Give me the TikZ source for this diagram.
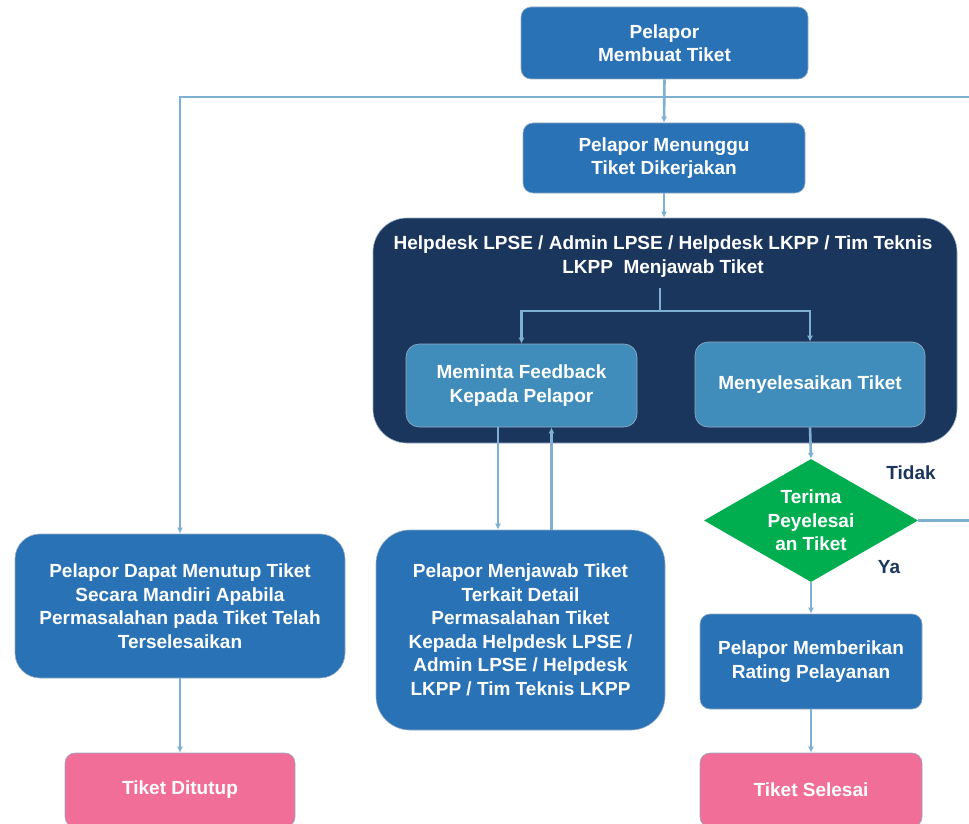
\documentclass[tikz,border=0pt]{standalone}
\usepackage{fontspec}
\setmainfont{Liberation Sans}
\usetikzlibrary{shapes.geometric,arrows.meta,positioning}

\definecolor{boxblue}{RGB}{41,114,182}
\definecolor{navy}{RGB}{27,54,93}
\definecolor{subblue}{RGB}{64,141,188}
\definecolor{pinkend}{RGB}{240,110,152}
\definecolor{okgreen}{RGB}{0,174,80}
\definecolor{linkblue}{RGB}{125,176,210}
\definecolor{rimgray}{RGB}{150,172,196}

\tikzset{
  txt/.style={text=white, font=\fontsize{19}{23.5}\selectfont\bfseries, align=center, inner sep=0pt},
  box/.style={txt, draw=rimgray, line width=0.6pt, fill=boxblue, rounded corners=10pt},
  bigbox/.style={box, rounded corners=30pt},
  panel/.style={draw=rimgray, line width=0.6pt, fill=navy, rounded corners=34pt},
  subbox/.style={box, fill=subblue, rounded corners=13pt},
  endbox/.style={box, fill=pinkend},
  decision/.style={txt, diamond, aspect=1.74, fill=okgreen, minimum width=214pt, minimum height=123pt},
  answer/.style={text=navy, font=\fontsize{19}{23.5}\selectfont\bfseries, inner sep=0pt},
  link/.style={draw=linkblue, line width=2.6pt},
  arr/.style={link, -{Latex[length=6pt,width=6pt]}}
}

\begin{document}
\begin{tikzpicture}[x=1pt,y=1pt,yscale=-1]
\useasboundingbox (0,0) rectangle (969,824);

% Upper boxes
\node [box, minimum width=287pt, minimum height=72pt] (membuat) at (664.5,43) {Pelapor\\Membuat Tiket};
\node [box, minimum width=282pt, minimum height=70pt] (menunggu) at (664,158) {Pelapor Menunggu\\Tiket Dikerjakan};

% Panel: helpdesk answers
\node [panel, minimum width=584pt, minimum height=225pt] (helpdesk) at (665,330.5) {};
\node [txt] (judul) at (663,256.5) {Helpdesk LPSE / Admin LPSE / Helpdesk LKPP / Tim Teknis\\LKPP~~Menjawab Tiket};
\coordinate (cabang) at (660,288);
\coordinate (pisah) at (660,311);
\node [subbox, minimum width=231pt, minimum height=83pt] (feedback) at (521.5,385.5) {Meminta Feedback\\Kepada Pelapor};
\node [subbox, minimum width=230pt, minimum height=85pt] (selesaikan) at (810,384.5) {Menyelesaikan Tiket};

% Lower boxes
\node [bigbox, minimum width=330pt, minimum height=144pt, rounded corners=25pt] (dapat) at (180,606) {Pelapor Dapat Menutup Tiket\\Secara Mandiri Apabila\\Permasalahan pada Tiket Telah\\Terselesaikan};
\node [bigbox, minimum width=289pt, minimum height=200pt, rounded corners=34pt] (menjawab) at (520.5,630) {Pelapor Menjawab Tiket\\Terkait Detail\\Permasalahan Tiket\\Kepada Helpdesk LPSE /\\Admin LPSE / Helpdesk\\LKPP / Tim Teknis LKPP};
\node [decision] (terima) at (811,520.5) {Terima\\Peyelesai\\an Tiket};
\node [box, minimum width=222pt, minimum height=95pt] (memberikan) at (811,661.5) {Pelapor Memberikan\\Rating Pelayanan};
\node [endbox, minimum width=230pt, minimum height=74pt] (ditutup) at (180,790) {Tiket Ditutup};
\node [endbox, minimum width=222pt, minimum height=74pt] (selesai) at (811,790) {Tiket Selesai};

% Answers
\node [answer] (tidak) at (911,473) {Tidak};
\node [answer] (ya) at (889,567) {Ya};

% Connectors
\coordinate (balik) at (985,97);
\draw [arr] (terima.east) -| (balik) -| (dapat.north);
\draw [arr] (membuat.south) -- (menunggu.north);
\draw [arr] (menunggu.south) -- (menunggu.south |- helpdesk.north);
\draw [link] (cabang) -- (pisah);
\draw [arr] (pisah) -| (feedback.north);
\draw [arr] (pisah) -| (selesaikan.north);
\draw [arr] ([xshift=-23.5pt]feedback.south) -- ([xshift=-23.5pt]feedback.south |- menjawab.north);
\draw [arr] ([xshift=30pt]menjawab.north -| feedback.south) -- ([xshift=30pt]feedback.south);
\draw [arr] (selesaikan.south) -- (terima.north);
\draw [arr] (terima.south) -- (memberikan.north);
\draw [arr] (memberikan.south) -- (selesai.north);
\draw [arr] (dapat.south) -- (ditutup.north);

\end{tikzpicture}
\end{document}
